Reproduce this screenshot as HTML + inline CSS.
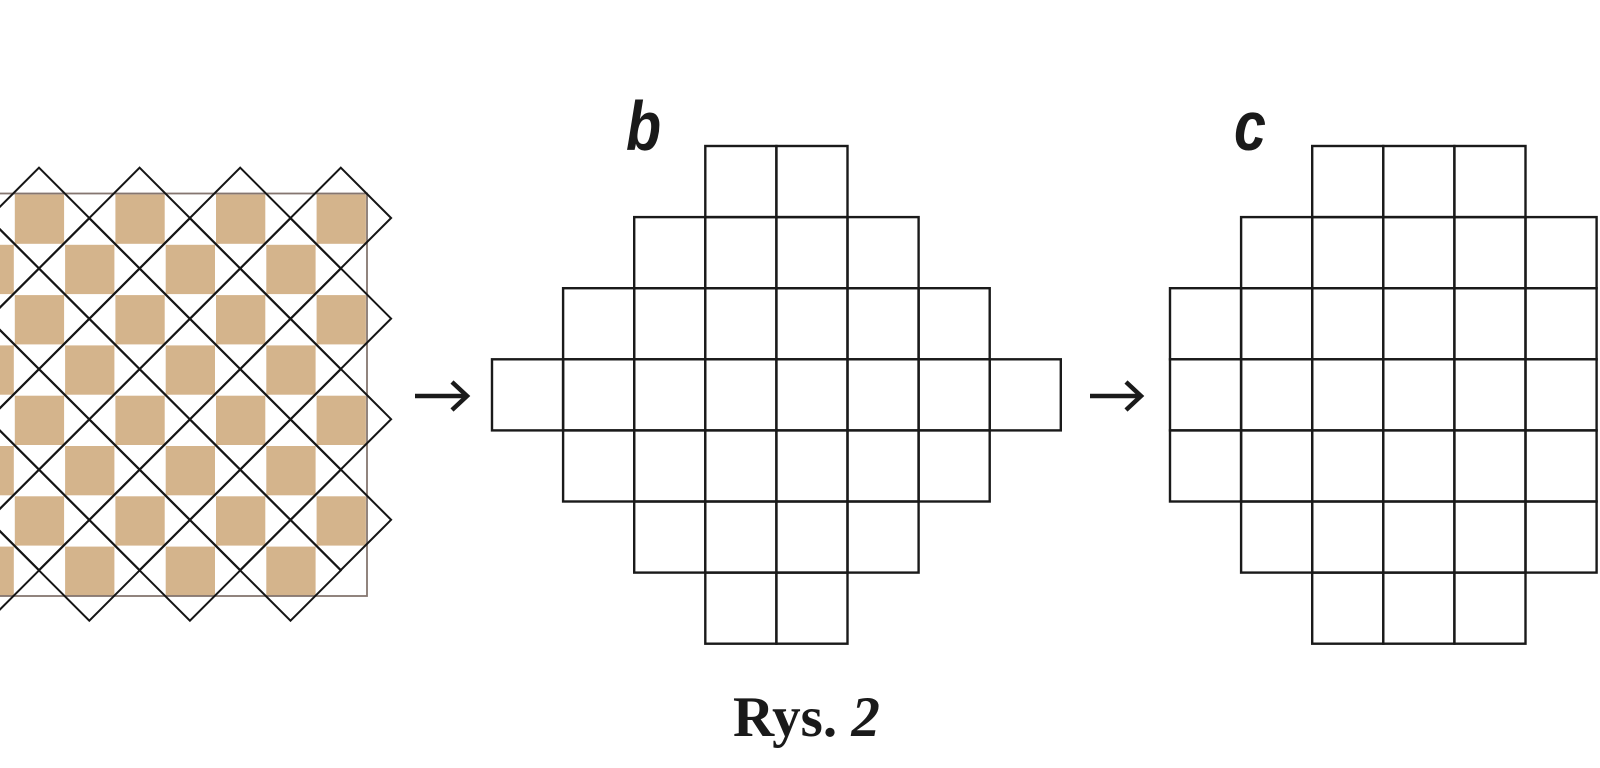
<!DOCTYPE html>
<html><head><meta charset="utf-8"><style>
html,body{margin:0;padding:0;background:#fff;}
svg{display:block;}
</style></head><body>
<svg width="1600" height="768" viewBox="0 0 1600 768" xmlns="http://www.w3.org/2000/svg">
<g fill="#d4b48c" id="tan"></g>
<rect x="-5" y="193.5" width="372" height="402.5" fill="none" stroke="#857670" stroke-width="1.8"/>
<g fill="none" stroke="#151515" stroke-width="2" id="dia"></g>
<g fill="none" stroke="#1a1a1a" stroke-width="2.4" id="grids"></g>
<g stroke="#1a1a1a" stroke-width="4.5" fill="none">
<line x1="415" y1="396" x2="466" y2="396"/><polyline points="452,382 467,396 452,410"/>
<line x1="1090" y1="396" x2="1140" y2="396"/><polyline points="1126,382 1141,396 1126,410"/>
</g>
<text transform="translate(626,150) scale(0.82,1)" font-family="'Liberation Sans',sans-serif" font-weight="bold" font-style="italic" font-size="70" fill="#1a1a1a">b</text>
<text transform="translate(1234,150) scale(0.82,1)" font-family="'Liberation Sans',sans-serif" font-weight="bold" font-style="italic" font-size="70" fill="#1a1a1a">c</text>
<text x="733" y="736" font-family="'Liberation Serif',serif" font-weight="bold" font-size="57" fill="#1a1a1a">Rys. <tspan font-style="italic">2</tspan></text>
</svg>
<script>
var ns="http://www.w3.org/2000/svg";
function el(p,t,a){var e=document.createElementNS(ns,t);for(var k in a)e.setAttribute(k,a[k]);p.appendChild(e);}
var tan=document.getElementById('tan'),c=50.3;
for(var r=0;r<8;r++)for(var k=0;k<8;k++){if((r+k)%2==1){el(tan,'rect',{x:-36+k*c+0.5,y:194+r*c+0.5,width:c-1,height:c-1});}}
var dia=document.getElementById('dia'),s=100.6,h=50.3;
function d(cx,cy){el(dia,'polygon',{points:(cx)+','+(cy-h)+' '+(cx+h)+','+cy+' '+cx+','+(cy+h)+' '+(cx-h)+','+cy});}
for(var i=-1;i<4;i++)for(var j=0;j<4;j++){d(39+i*s,218+j*s);}
for(var i=-1;i<3;i++)for(var j=0;j<4;j++){d(89.3+i*s,268.6+j*s);}
var g=document.getElementById('grids');
function grid(x0,y0,cs,rows){for(var r=0;r<rows.length;r++)for(var k=rows[r][0];k<=rows[r][1];k++)el(g,'rect',{x:x0+k*cs,y:y0+r*cs,width:cs,height:cs});}
grid(492,146,71.1,[[3,4],[2,5],[1,6],[0,7],[1,6],[2,5],[3,4]]);
grid(1170,146,71.1,[[2,4],[1,5],[0,5],[0,5],[0,5],[1,5],[2,4]]);
</script>
</body></html>
